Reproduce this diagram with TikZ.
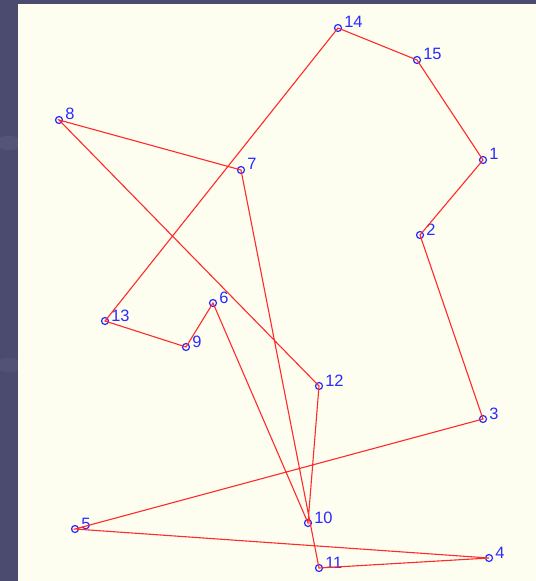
\documentclass[tikz,border=0pt]{standalone}
\usepackage{fontspec}
\setmainfont{Liberation Sans}
\usepackage{xcolor}
\definecolor{tspslate}{HTML}{4B4B6F}
\definecolor{tspslatelight}{HTML}{5E5E85}
\definecolor{tspcream}{HTML}{FDFDF0}
\definecolor{tspred}{HTML}{FF2A2A}
\definecolor{tspblue}{HTML}{2B2BFF}
\usetikzlibrary{calc}

\begin{document}
\begin{tikzpicture}[x=1bp, y=-1bp,
  city/.style={circle, draw=tspblue, line width=1.2bp, fill=none,
               minimum size=7bp, inner sep=0pt},
  citylbl/.style={anchor=base west, inner sep=0pt, xshift=2bp,
                  text=tspblue, font=\fontsize{16.5}{16.5}\selectfont},
  tour/.style={draw=tspred, line width=1.1bp}]

  %% Frame and plotting panel
  \useasboundingbox (0,0) rectangle (536,581);
  \fill[tspslate] (0,0) rectangle (536,581);
  \fill[tspslatelight, opacity=0.5] (9,143) ellipse (14 and 7);
  \fill[tspslatelight, opacity=0.4] (9,365) ellipse (14 and 7);
  \fill[tspcream] (18,4) rectangle (536,581);

  %% City positions
  \path (483,160) coordinate (c1) (420,235) coordinate (c2)
        (483,419) coordinate (c3) (489,558) coordinate (c4)
        (75,529)  coordinate (c5) (213,303) coordinate (c6)
        (241,170) coordinate (c7) (59,120)  coordinate (c8)
        (186,347) coordinate (c9) (308,523) coordinate (c10)
        (319,568) coordinate (c11) (319,386) coordinate (c12)
        (105,321) coordinate (c13) (338,28) coordinate (c14)
        (417,60)  coordinate (c15);

  %% Cities
  \node[city, label={[citylbl]0:1}]  (p1)  at (c1)  {};
  \node[city, label={[citylbl]0:2}]  (p2)  at (c2)  {};
  \node[city, label={[citylbl]0:3}]  (p3)  at (c3)  {};
  \node[city, label={[citylbl]0:4}]  (p4)  at (c4)  {};
  \node[city, label={[citylbl]0:5}]  (p5)  at (c5)  {};
  \node[city, label={[citylbl]0:6}]  (p6)  at (c6)  {};
  \node[city, label={[citylbl]0:7}]  (p7)  at (c7)  {};
  \node[city, label={[citylbl]0:8}]  (p8)  at (c8)  {};
  \node[city, label={[citylbl]0:9}]  (p9)  at (c9)  {};
  \node[city, label={[citylbl]0:10}] (p10) at (c10) {};
  \node[city, label={[citylbl]0:11}] (p11) at (c11) {};
  \node[city, label={[citylbl]0:12}] (p12) at (c12) {};
  \node[city, label={[citylbl]0:13}] (p13) at (c13) {};
  \node[city, label={[citylbl]0:14}] (p14) at (c14) {};
  \node[city, label={[citylbl]0:15}] (p15) at (c15) {};

  %% Tour
  \draw[tour] (p1.center) -- (p2.center) -- (p3.center) -- (p5.center)
    -- (p4.center) -- (p11.center) -- (p7.center) -- (p8.center)
    -- (p12.center) -- (p10.center) -- (p6.center) -- (p9.center)
    -- (p13.center) -- (p14.center) -- (p15.center) -- cycle;

\end{tikzpicture}
\end{document}
